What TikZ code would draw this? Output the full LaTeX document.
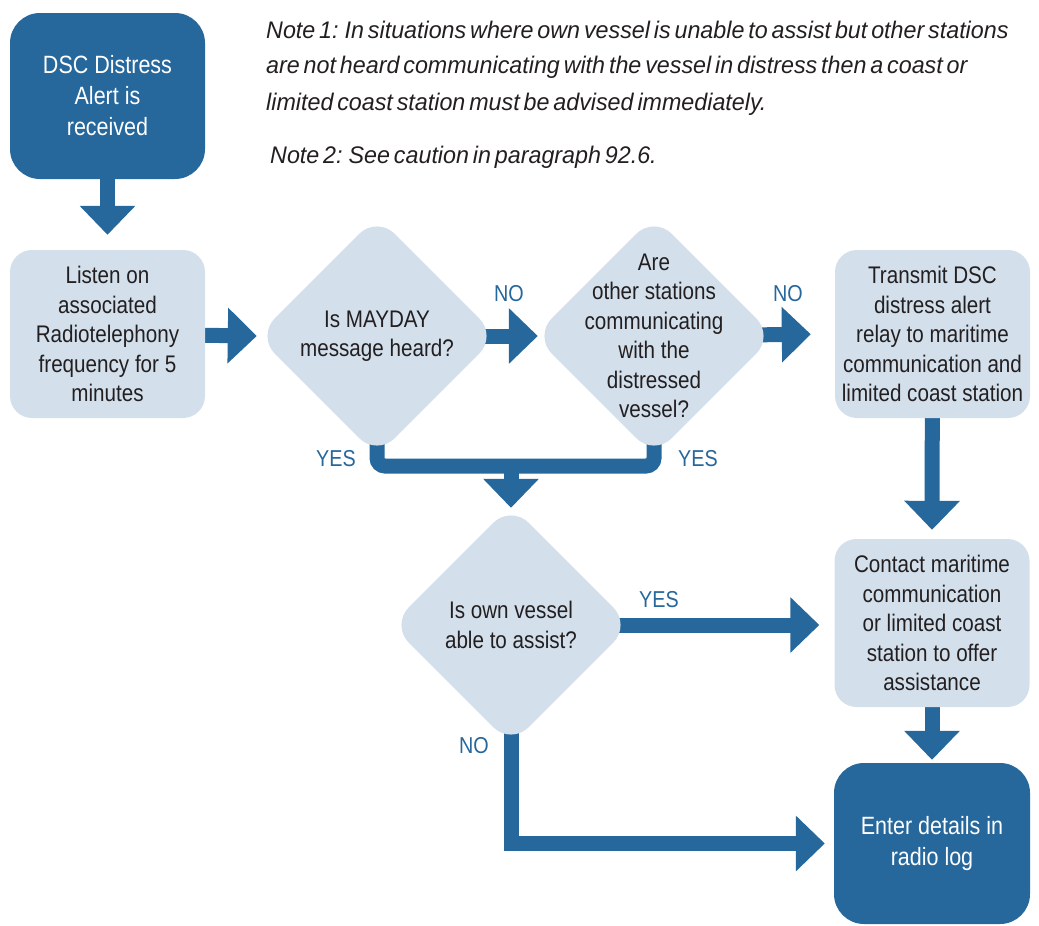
\documentclass[tikz,border=0pt]{standalone}
\usepackage{fontspec}
\setmainfont{Liberation Sans}[FakeStretch=0.86]
\newfontfamily\notefont{Liberation Sans}[FakeStretch=0.97, WordSpace=0.6]
\usetikzlibrary{shapes.geometric,arrows.meta,backgrounds}
\definecolor{dblue}{HTML}{26679C}
\definecolor{lblue}{HTML}{D3E0EC}
\definecolor{ink}{HTML}{231F20}
\begin{document}
\begin{tikzpicture}[x=1pt,y=-1pt,
 dbox/.style={rectangle, rounded corners=30pt, fill=dblue, text=white, minimum width=195pt, align=center, font=\fontsize{25}{31}\selectfont, inner sep=0pt},
 lbox/.style={rectangle, rounded corners=22pt, fill=lblue, text=ink, minimum width=195pt, minimum height=168pt, align=center, font=\fontsize{24}{29.5}\selectfont, inner sep=0pt},
 dia/.style={diamond, aspect=1, fill=lblue, minimum width=240pt, minimum height=240pt, rounded corners=25pt, inner sep=0pt},
 dtext/.style={text=ink, align=center, font=\fontsize{24}{29.5}\selectfont},
 arr/.style={draw=dblue, line width=15pt, -{Triangle[width=54pt,length=29pt]}},
 mline/.style={draw=dblue, line width=15pt, rounded corners=8pt},
 lab/.style={text=dblue, font=\fontsize{23}{28}\selectfont},
 note/.style={text=ink, anchor=west, inner sep=0pt, font=\notefont\itshape\fontsize{24}{28}\selectfont}]
\useasboundingbox (0,0) rectangle (1039,926);

% notes
\node[note] (n1) at (266,30) {Note 1: In situations where own vessel is unable to assist but other stations};
\node[note] (n2) at (266,67) {are not heard communicating with the vessel in distress then a coast or};
\node[note] (n3) at (266,104) {limited coast station must be advised immediately.};
\node[note] (n4) at (270,157) {Note 2: See caution in paragraph 92.6.};

% nodes
\node[dbox, minimum height=166pt] (start) at (107.5,96) {DSC Distress\\Alert is\\received};
\node[lbox] (listen) at (107.5,334) {Listen on\\associated\\Radiotelephony\\frequency for 5\\minutes};
\node[dia] (d1) at (377,336) {};
\node[dtext] (t1) at (d1) {Is MAYDAY\\message heard?};
\node[dia] (d2) at (654,336) {};
\node[dtext] (t2) at (d2) {Are\\other stations\\communicating\\with the\\distressed\\vessel?};
\node[lbox] (transmit) at (932.5,334) {Transmit DSC\\distress alert\\relay to maritime\\communication and\\limited coast station};
\node[dia] (d3) at (511,625) {};
\node[dtext] (t3) at (d3) {Is own vessel\\able to assist?};
\node[lbox] (contact) at (932,623) {Contact maritime\\communication\\or limited coast\\station to offer\\assistance};
\node[dbox, minimum height=161pt, minimum width=196pt] (end) at (932,843.5) {Enter details in\\radio log};
\coordinate (m) at (511,466);

% labels
\node[lab] (no1) at (509,294) {NO};
\node[lab] (no2) at (788,294) {NO};
\node[lab] (yes1) at (336,459) {YES};
\node[lab] (yes2) at (698,459) {YES};
\node[lab] (yes3) at (659,600) {YES};
\node[lab] (no3) at (474,746) {NO};

% connectors
\begin{scope}[on background layer]
\draw[arr, shorten >=15pt] (start.center) -- (listen.north);
\draw[arr] (listen.center) -- (d1.west);
\draw[arr, shorten >=-4pt] (d1.center) -- (d2.west);
\draw[arr, shorten >=24pt] (d2.center) -- (transmit.west);
\draw[mline] (d1.center) |- (m) -| (d2.center);
\draw[arr, shorten >=-3pt] (m) -- (d3.north);
\draw[arr, shorten >=9pt] (transmit.center) -- (contact.north);
\draw[arr, shorten >=15pt] (d3.center) -- (d3.center -| contact.west);
\draw[arr, shorten >=3pt] (contact.center) -- (end.north);
\draw[arr, shorten >=9pt] (d3.center) |- (end.west);
\end{scope}
\end{tikzpicture}
\end{document}
